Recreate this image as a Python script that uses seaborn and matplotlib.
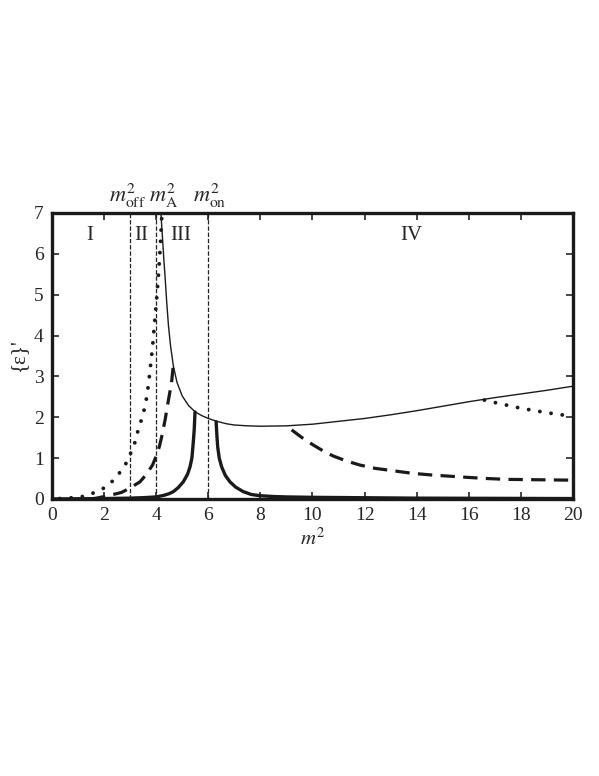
import matplotlib
matplotlib.use("Agg")
import matplotlib.pyplot as plt
import seaborn as sns
import pandas as pd

# thin solid curve
thin_x = [4.18, 4.22, 4.26, 4.30, 4.34, 4.40, 4.47, 4.55, 4.66, 4.80, 5.0, 5.25, 5.5, 5.75,
          6.0, 6.33, 6.7, 7.0, 7.5, 8.0, 9.0, 10.0, 11.0, 12.0, 13.0, 14.0, 15.0, 16.0,
          17.0, 18.0, 19.0, 20.0]
thin_y = [7.0, 6.6, 6.2, 5.8, 5.45, 4.85, 4.25, 3.75, 3.25, 2.85, 2.52, 2.28, 2.13, 2.04,
          1.97, 1.9, 1.84, 1.81, 1.79, 1.78, 1.79, 1.83, 1.9, 1.97, 2.06, 2.16, 2.27, 2.38,
          2.48, 2.57, 2.66, 2.76]

# dotted curve, left and right parts
dot_left_x = [0.3, 0.8, 1.3, 1.71, 2.1, 2.39, 2.67, 2.89, 3.06, 3.21, 3.31, 3.44, 3.57,
              3.65, 3.72, 3.78, 3.85, 3.95, 4.03, 4.1, 4.16, 4.22]
dot_left_y = [0.01, 0.03, 0.07, 0.18, 0.3, 0.48, 0.7, 0.92, 1.18, 1.43, 1.7, 1.95, 2.26,
              2.55, 2.9, 3.25, 3.65, 4.4, 5.0, 5.6, 6.2, 7.0]
dot_right_x = [16.6, 17.0, 18.0, 19.0, 20.0]
dot_right_y = [2.42, 2.36, 2.22, 2.11, 2.02]

# dashed curve, left and right parts
dash_left_x = [1.5, 1.71, 2.16, 2.67, 2.97, 3.38, 3.63, 3.86, 4.02, 4.12, 4.21, 4.34, 4.47,
               4.59, 4.66]
dash_left_y = [0.0, 0.02, 0.08, 0.16, 0.26, 0.42, 0.61, 0.83, 1.08, 1.28, 1.52, 1.93, 2.42,
               2.85, 3.3]
dash_right_x = [9.2, 9.6, 10.03, 10.4, 10.8, 11.3, 11.82, 12.4, 13.1, 13.8, 14.51, 15.2,
                15.92, 16.7, 17.45, 18.7, 20.0]
dash_right_y = [1.69, 1.5, 1.32, 1.18, 1.05, 0.93, 0.83, 0.75, 0.69, 0.63, 0.59, 0.56,
                0.53, 0.5, 0.48, 0.47, 0.46]

# thick solid curve, two branches
thick_left_x = [0.0, 1.0, 2.0, 3.0, 3.6, 4.0, 4.3, 4.5, 4.66, 4.85, 5.04, 5.2, 5.3, 5.37,
                5.42, 5.46, 5.49]
thick_left_y = [0.0, 0.005, 0.01, 0.02, 0.035, 0.05, 0.09, 0.13, 0.18, 0.28, 0.42, 0.6,
                0.79, 1.0, 1.36, 1.7, 2.13]
thick_right_x = [6.3, 6.33, 6.36, 6.42, 6.51, 6.65, 6.83, 7.05, 7.34, 7.65, 7.98, 8.5,
                 9.0, 10.0, 12.0, 14.0, 17.0, 20.0]
thick_right_y = [1.89, 1.55, 1.28, 1.0, 0.79, 0.58, 0.42, 0.29, 0.18, 0.11, 0.08, 0.06,
                 0.05, 0.04, 0.03, 0.02, 0.015, 0.01]

# boundaries and labels
vlines_x = [3, 4, 6]
top_labels = [r"$m^{2}_{\mathrm{off}}$", r"$m^{2}_{\mathrm{A}}$", r"$m^{2}_{\mathrm{on}}$"]
top_label_x = [2.9, 4.3, 6.05]
regions = ["I", "II", "III", "IV"]
region_x = [1.45, 3.42, 4.95, 13.8]
xticks = list(range(0, 21, 2))
yticks = list(range(0, 8))

sns.set_style("ticks")
plt.rcParams["font.family"] = ["Liberation Serif", "DejaVu Serif"]
plt.rcParams["mathtext.fontset"] = "stix"

fig = plt.figure(figsize=(5.99, 7.76), dpi=100)
ax = fig.add_axes([0.0868, 0.357, 0.8698, 0.3686])
ink = "#1a1a1a"


def seg(x, y, **kw):
    d = pd.DataFrame({"x": x, "y": y})
    sns.lineplot(data=d, x="x", y="y", ax=ax, estimator=None, sort=False, color=ink, **kw)


seg(thin_x, thin_y, linewidth=1.0)
seg(thick_left_x, thick_left_y, linewidth=2.4)
seg(thick_right_x, thick_right_y, linewidth=2.4)
for xs, ys in [(dot_left_x, dot_left_y), (dot_right_x, dot_right_y)]:
    seg(xs, ys, linewidth=2.8, linestyle=(0, (0.01, 2.9)), dash_capstyle="round")
for xs, ys in [(dash_left_x, dash_left_y), (dash_right_x, dash_right_y)]:
    seg(xs, ys, linewidth=2.3, linestyle=(0, (4.5, 2.6)))

for v in vlines_x:
    ax.axvline(v, color="#222222", linewidth=0.9, linestyle=(0, (3.5, 1.5)))

for lab, lx in zip(top_labels, top_label_x):
    ax.text(lx, 7.08, lab, ha="center", va="bottom", fontsize=16)
for r, rx in zip(regions, region_x):
    ax.text(rx, 6.45, r, ha="center", va="center", fontsize=15)

ax.set_xlim(0, 20)
ax.set_ylim(0, 7)
ax.set_xticks(xticks)
ax.set_yticks(yticks)
ax.tick_params(direction="in", length=5, width=1.2, labelsize=14, top=True, right=True, pad=6)
for s in ax.spines.values():
    s.set_linewidth(2.4)
    s.set_color(ink)
ax.set_xlabel(r"$m^{2}$", fontsize=15, labelpad=3)
ax.set_ylabel("{ε}'", fontsize=15, labelpad=4)

fig.savefig("out.png", dpi=100)
